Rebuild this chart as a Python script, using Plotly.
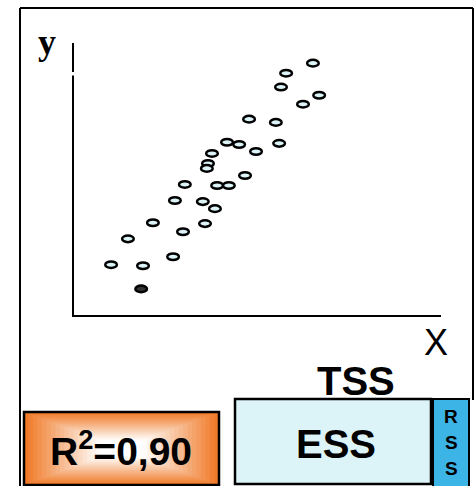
import plotly.graph_objects as go

W, H = 475, 486

# Data (arbitrary units, 0-10 on both axes)
x_vals = [6.51, 5.78, 5.64, 6.68, 6.24, 4.77, 5.50, 4.17, 4.50, 4.96, 5.59, 3.76,
          3.65, 3.62, 4.66, 3.02, 3.90, 4.22, 2.75, 3.51, 3.84, 2.15, 3.57, 2.97,
          1.47, 2.70, 1.01, 1.88, 1.83]
y_vals = [9.26, 8.89, 8.38, 8.08, 7.75, 7.20, 7.08, 6.35, 6.27, 6.01, 6.31, 5.94,
          5.57, 5.39, 5.13, 4.80, 4.76, 4.76, 4.21, 4.17, 3.91, 3.39, 3.36, 3.06,
          2.80, 2.14, 1.85, 1.81, 0.96]
highlight = [False] * 28 + [True]

r2_label = "R<sup>2</sup>=0,90"
tss_label = "TSS"
ess_label = "ESS"
rss_letters = ["R", "S", "S"]
x_label = "X"
y_label = "y"

FONT = "Liberation Sans, Arial, sans-serif"


def px(x):
    return x / W


def py(y):
    return 1 - y / H


fig = go.Figure()
fig.add_trace(go.Scatter(x=x_vals, y=y_vals, mode="markers",
                         marker=dict(size=1, opacity=0), hoverinfo="x+y",
                         showlegend=False))

shapes = []
# Ellipse markers anchored on data values
for xv, yv, hl in zip(x_vals, y_vals, highlight):
    shapes.append(dict(type="circle", xref="x", yref="y",
                       xsizemode="pixel", ysizemode="pixel",
                       xanchor=xv, yanchor=yv, x0=-5.8, x1=5.8, y0=-3.3, y1=3.3,
                       fillcolor="#333333" if hl else "#dcf3f8",
                       line=dict(color="black", width=2.5)))

# y-axis break
shapes.append(dict(type="line", xref="paper", yref="paper",
                   x0=px(74), x1=px(74), y0=py(72), y1=py(75.5),
                   line=dict(color="white", width=4)))

# outer frame
for (x0, y0, x1, y1) in [(20, 8, 20, 490), (20, 8, 473, 8), (473, 8, 473, 400)]:
    shapes.append(dict(type="line", xref="paper", yref="paper",
                       x0=px(x0), y0=py(y0), x1=px(x1), y1=py(y1),
                       line=dict(color="black", width=2)))

# ESS box
shapes.append(dict(type="rect", xref="paper", yref="paper",
                   x0=px(235), x1=px(431), y0=py(399), y1=py(484),
                   fillcolor="#dcf3f8", line=dict(color="black", width=2.5)))
# RSS box
shapes.append(dict(type="rect", xref="paper", yref="paper",
                   x0=px(433), x1=px(469), y0=py(399), y1=py(488),
                   fillcolor="#3cb4e6", line=dict(color="black", width=2)))

# R2 box with rectangular gradient
bx0, bx1, by0, by1 = 24, 219, 412, 485
N = 20
c_edge = (240, 122, 40)
c_mid = (255, 255, 255)
hw = (bx1 - bx0) / 2
hh = (by1 - by0) / 2
for i in range(N):
    t = i / (N - 1)
    t2 = min(1.0, t * 1.15)
    col = tuple(int(round(c_edge[k] + (c_mid[k] - c_edge[k]) * t2)) for k in range(3))
    dx = hw * 0.92 * i / N
    dy = hh * 0.92 * i / N
    shapes.append(dict(type="rect", xref="paper", yref="paper",
                       x0=px(bx0 + dx), x1=px(bx1 - dx), y0=py(by0 + dy), y1=py(by1 - dy),
                       fillcolor="rgb(%d,%d,%d)" % col, line=dict(width=0)))
shapes.append(dict(type="rect", xref="paper", yref="paper",
                   x0=px(bx0), x1=px(bx1), y0=py(by0), y1=py(by1),
                   fillcolor="rgba(0,0,0,0)", line=dict(color="black", width=2.5)))


def ann(text, x, y, size, family=FONT):
    return dict(text=text, x=px(x), y=py(y), xref="paper", yref="paper",
                xanchor="center", yanchor="middle", showarrow=False,
                font=dict(family=family, size=size, color="black"))


annotations = [
    ann("<b>" + y_label + "</b>", 47, 42, 36, "Liberation Serif, Times New Roman, serif"),
    ann(x_label, 436, 342, 36),
    ann("<b>" + tss_label + "</b>", 356, 381, 40),
    ann("<b>" + ess_label + "</b>", 336, 444, 40),
    ann("<b>" + r2_label + "</b>", 121, 448, 39),
]
for i, letter in enumerate(rss_letters):
    annotations.append(ann("<b>" + letter + "</b>", 451, 416 + 26 * i, 19))

fig.update_layout(
    width=W, height=H,
    margin=dict(l=0, r=0, t=0, b=0),
    paper_bgcolor="white", plot_bgcolor="white",
    showlegend=False,
    xaxis=dict(domain=[px(74), px(441)], range=[0, 10], showgrid=False, zeroline=False,
               showticklabels=False, ticks="", showline=True, linecolor="black",
               linewidth=2, fixedrange=True),
    yaxis=dict(domain=[py(315), py(43)], range=[0, 10], showgrid=False, zeroline=False,
               showticklabels=False, ticks="", showline=True, linecolor="black",
               linewidth=2, fixedrange=True),
    shapes=shapes,
    annotations=annotations,
)

fig.write_html("out.html",
               config={"displayModeBar": False, "staticPlot": True},
               post_script="document.body.style.margin='0';"
                           "document.body.style.overflow='hidden';")
